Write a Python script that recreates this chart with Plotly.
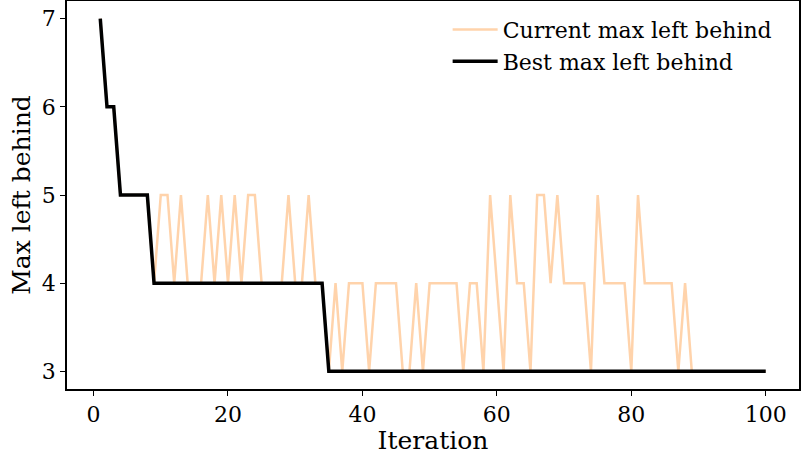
import plotly.graph_objects as go

iterations = list(range(1, 101))
current_max = [7, 6, 6, 5, 5, 5, 5, 5, 4, 5,
               5, 4, 5, 4, 4, 4, 5, 4, 5, 4,
               5, 4, 5, 5, 4, 4, 4, 4, 5, 4,
               4, 5, 4, 4, 3, 4, 3, 4, 4, 4,
               3, 4, 4, 4, 4, 3, 3, 4, 3, 4,
               4, 4, 4, 4, 3, 4, 4, 3, 5, 4,
               3, 5, 4, 4, 3, 5, 5, 4, 5, 4,
               4, 4, 4, 3, 5, 4, 4, 4, 4, 3,
               5, 4, 4, 4, 4, 4, 3, 4, 3, 3,
               3, 3, 3, 3, 3, 3, 3, 3, 3, 3]
best_max = [7, 6, 6, 5, 5, 5, 5, 5] + [4] * 26 + [3] * 66

x_ticks = [0, 20, 40, 60, 80, 100]
y_ticks = [3, 4, 5, 6, 7]

font_family = "DejaVu Serif"

fig = go.Figure()
fig.add_trace(go.Scatter(
    x=iterations, y=current_max, mode="lines",
    name="Current max left behind",
    line=dict(color="#ffd3ab", width=2.5),
    legendgroup="a",
))
fig.add_trace(go.Scatter(
    x=iterations, y=best_max, mode="lines",
    name="Best max left behind",
    line=dict(color="black", width=3.5),
    legendgroup="b",
))

axis_common = dict(
    showgrid=False, zeroline=False, automargin=False,
    showline=True, linecolor="black", linewidth=1.5, mirror=True,
    ticks="outside", ticklen=5, tickwidth=1.2, tickcolor="black",
    tickfont=dict(family=font_family, size=22, color="black"),
)

fig.update_layout(
    width=804, height=455,
    margin=dict(l=67, r=5, t=1, b=66),
    plot_bgcolor="white", paper_bgcolor="white",
    font=dict(family=font_family, color="black"),
    xaxis=dict(range=[-3.95, 104.95], tickvals=x_ticks,
               title=dict(text="Iteration", font=dict(family=font_family, size=25), standoff=0),
               **axis_common),
    yaxis=dict(range=[2.8, 7.2], tickvals=y_ticks,
               title=dict(text="Max left behind", font=dict(family=font_family, size=25), standoff=4),
               **axis_common),
    legend=dict(x=0.52, y=0.98, xanchor="left", yanchor="top",
                font=dict(family=font_family, size=22, color="black"),
                bgcolor="rgba(0,0,0,0)", tracegroupgap=0, itemwidth=45),
    showlegend=True,
)

fig.write_html(
    "out.html",
    config={"displayModeBar": False},
    post_script="document.body.style.margin='0';document.body.style.padding='0';document.body.style.overflow='hidden';",
)
